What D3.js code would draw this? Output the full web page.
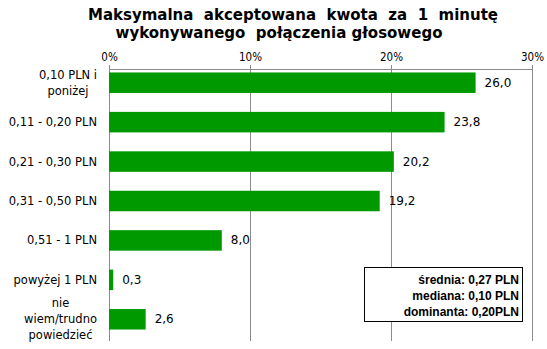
<!DOCTYPE html>
<html><head><meta charset="utf-8">
<script src="https://cdn.jsdelivr.net/npm/d3@7"></script>
<style>body{margin:0;background:#fff}</style>
</head><body>
<svg id="c" width="547" height="349"></svg>
<script>
const categories = [["0,10 PLN i","poniżej"],["0,11 - 0,20 PLN"],["0,21 - 0,30 PLN"],["0,31 - 0,50 PLN"],["0,51 - 1 PLN"],["powyżej 1 PLN"],["nie","wiem/trudno","powiedzieć"]];
const values = [26.0, 23.8, 20.2, 19.2, 8.0, 0.3, 2.6];
const ticks = [0, 10, 20, 30];
const titleLines = ["Maksymalna  akceptowana  kwota  za  1  minutę", "wykonywanego  połączenia głosowego"];
const statsLines = ["średnia: 0,27 PLN", "mediana: 0,10 PLN", "dominanta: 0,20PLN"];

const svg = d3.select("#c");
const x = d3.scaleLinear().domain([0, 30]).range([109, 532]);
const y = d3.scaleBand().domain(d3.range(categories.length)).range([63, 339]).paddingInner(0.48).paddingOuter(0.24);

// title
svg.append("g").selectAll("text").data(titleLines).join("text")
  .attr("x", (d,i)=> i===0 ? 293 : 279).attr("y", (d,i)=> 20 + i*18)
  .attr("text-anchor","middle").attr("font-family","DejaVu Sans").attr("font-weight","bold")
  .attr("font-size", 15).attr("fill","#000").style("white-space","pre").text(d=>d);

// gridlines
svg.append("g").selectAll("line").data(ticks).join("line")
  .attr("x1", d=>x(d)).attr("x2", d=>x(d)).attr("y1", 65).attr("y2", 341)
  .attr("stroke","#8c8c8c").attr("stroke-width",1).attr("shape-rendering","crispEdges");

// top axis
const ax = svg.append("g").attr("transform","translate(0,69)")
  .call(d3.axisTop(x).tickValues(ticks).tickFormat(d=>d+"%").tickSize(4).tickPadding(4));
ax.select(".domain").remove();
ax.selectAll("line").attr("stroke","#8c8c8c");
ax.selectAll("text").attr("font-family","DejaVu Sans Condensed").attr("font-size",11.5).attr("fill","#000");
svg.append("line").attr("x1",x(0)).attr("x2",x(30)).attr("y1",69).attr("y2",69)
  .attr("stroke","#8c8c8c").attr("shape-rendering","crispEdges");

// bars
svg.append("g").selectAll("rect").data(values).join("rect")
  .attr("x", x(0)).attr("y",(d,i)=>y(i)).attr("width", d=>x(d)-x(0)).attr("height", y.bandwidth())
  .attr("fill","#009900");

// value labels
svg.append("g").selectAll("text").data(values).join("text")
  .attr("x", d=>x(d)+9).attr("y",(d,i)=>y(i)+y.bandwidth()/2+4)
  .attr("font-family","DejaVu Sans").attr("font-size",12).attr("fill","#000")
  .text(d=>d.toFixed(1).replace(".",","));

// category labels
const lab = svg.append("g");
categories.forEach((lines,i)=>{
  const g = lab.append("g");
  const cy = y(i)+y.bandwidth()/2;
  const lh = 16;
  const t = g.selectAll("text").data(lines).join("text")
    .attr("y",(d,j)=>cy + (j-(lines.length-1)/2)*lh + 4)
    .attr("font-family","DejaVu Sans").attr("font-size",11.5).attr("fill","#000")
    .attr("text-anchor","middle").text(d=>d);
  let w = 0; t.each(function(){ w = Math.max(w, this.getComputedTextLength()); });
  t.attr("x", 97 - w/2);
});

// stats box
const bx = svg.append("g");
bx.append("rect").attr("x",364.5).attr("y",267.5).attr("width",158).attr("height",54)
  .attr("fill","#fff").attr("stroke","#000").attr("stroke-width",1);
bx.selectAll("text").data(statsLines).join("text")
  .attr("x",519).attr("y",(d,i)=>284+i*16).attr("text-anchor","end")
  .attr("font-family","Liberation Sans").attr("font-weight","bold").attr("font-size",12).attr("fill","#000")
  .text(d=>d);
</script>
</body></html>
